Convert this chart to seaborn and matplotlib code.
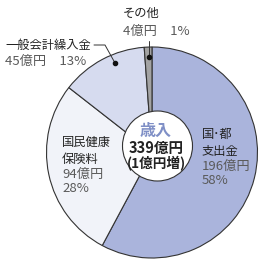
import matplotlib
matplotlib.use("Agg")
import matplotlib.pyplot as plt
import seaborn as sns
from matplotlib.patches import Circle

sns.set_theme(style="white")
plt.rcParams['font.family'] = ['Noto Sans CJK JP', 'DejaVu Sans']

# data
categories = ["国･都\n支出金", "国民健康\n保険料", "一般会計繰入金", "その他"]
amounts = [196, 94, 45, 4]          # 億円
amount_labels = ["196億円", "94億円", "45億円", "4億円"]
percent_labels = ["58%", "28%", "13%", "1%"]
colors = ["#aab4dc", "#f1f3f9", "#d6dbef", "#a3a3a3"]
total_label = "339億円"
change_label = "(1億円増)"

W, H = 265, 263
fig = plt.figure(figsize=(W / 100, H / 100), dpi=100)
ax = fig.add_axes([0, 0, 1, 1])

cx, cy, R = 152, 152.5, 105.5
# y axis is inverted, so counterclock=True draws clockwise on screen
ax.pie(amounts, colors=colors, startangle=-90, counterclock=True,
       center=(cx, cy), radius=R, frame=True,
       wedgeprops=dict(edgecolor="#333333", linewidth=0.8))
ax.set_xlim(0, W)
ax.set_ylim(H, 0)
ax.set_aspect("equal")
ax.axis("off")

# centre disc sits slightly up-right of the pie centre
ax.add_patch(Circle((157.5, 146), 35, facecolor="white", edgecolor="#333333",
                    linewidth=0.8, zorder=3))

ax.text(155.5, 131, "歳入", ha="center", va="center", fontsize=11.5,
        fontweight="bold", color="#7f8fc6", zorder=4)
ax.text(156, 148, total_label, ha="center", va="center", fontsize=10.5,
        fontweight="bold", color="#222222", zorder=4)
ax.text(156, 164, change_label, ha="center", va="center", fontsize=9.8,
        fontweight="bold", color="#222222", zorder=4)

dark = "#222222"
gray = "#5a5a5a"
fs = 8.8
fs_num = 9.5

# 国・都支出金
ax.text(202, 143, categories[0], ha="left", va="center", fontsize=fs,
        color=dark, linespacing=1.35)
ax.text(202, 173, amount_labels[0] + "\n" + percent_labels[0], ha="left",
        va="center", fontsize=fs_num, color=gray, linespacing=1.1)

# 国民健康保険料
ax.text(62, 151, categories[1], ha="left", va="center", fontsize=fs,
        color=dark, linespacing=1.35)
ax.text(62, 181, amount_labels[1] + "\n" + percent_labels[1], ha="left",
        va="center", fontsize=fs_num, color=gray, linespacing=1.1)

# 一般会計繰入金
ax.text(5, 45, categories[2], ha="left", va="center", fontsize=fs, color=dark)
ax.text(5, 61, amount_labels[2] + "　" + percent_labels[2], ha="left",
        va="center", fontsize=fs_num, color=gray)
ax.plot([94, 105, 115], [45, 45, 63], color="#333333", lw=0.7, zorder=4)
ax.plot([115], [63], "o", color="#111111", ms=3, zorder=5)

# その他
ax.text(123, 13, categories[3], ha="left", va="center", fontsize=fs, color=dark)
ax.text(123, 31, amount_labels[3] + "　" + percent_labels[3], ha="left",
        va="center", fontsize=fs_num, color=gray)
ax.plot([149, 149], [41, 57], color="#333333", lw=0.7, zorder=4)
ax.plot([149], [57], "o", color="#111111", ms=3, zorder=5)

fig.savefig("out.png", dpi=100, facecolor="white")
